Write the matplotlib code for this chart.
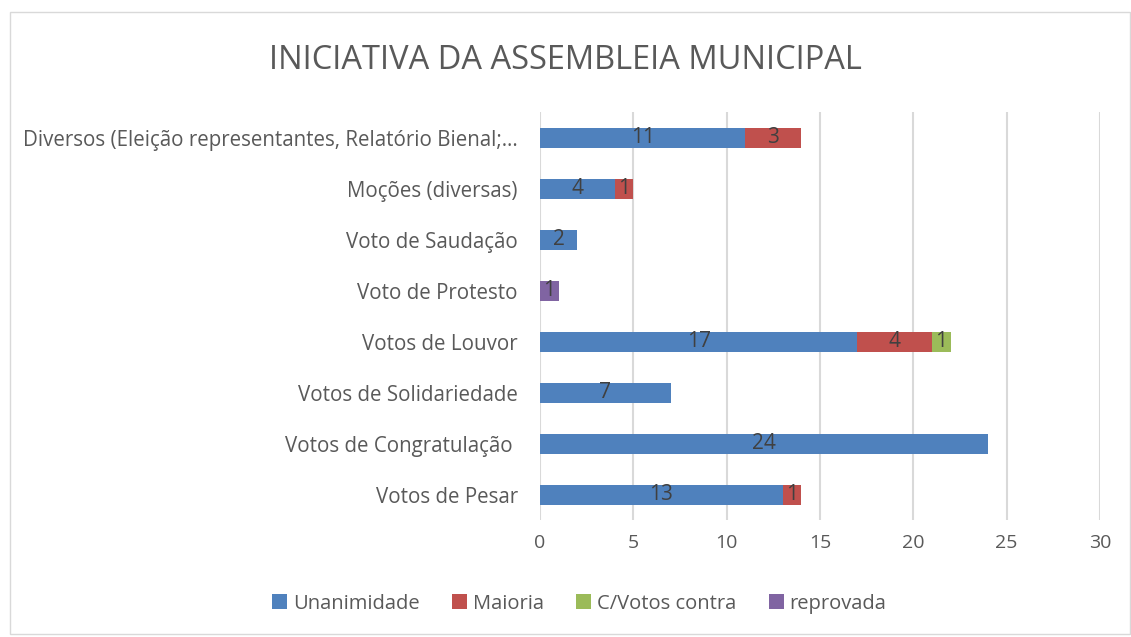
import matplotlib.pyplot as plt
import numpy as np
from matplotlib.patches import Rectangle

plt.rcParams['font.family'] = ['Open Sans', 'DejaVu Sans']

categories = ['Votos de Pesar', 'Votos de Congratulação ', 'Votos de Solidariedade',
              'Votos de Louvor', 'Voto de Protesto', 'Voto de Saudação',
              'Moções (diversas)', 'Diversos (Eleição representantes, Relatório Bienal;…']
unanimidade = [13, 24, 7, 17, 0, 2, 4, 11]
maioria = [1, 0, 0, 4, 0, 0, 1, 3]
votos_contra = [0, 0, 0, 1, 0, 0, 0, 0]
reprovada = [0, 0, 0, 0, 1, 0, 0, 0]

series = [('Unanimidade', unanimidade, '#4f81bd'),
          ('Maioria', maioria, '#c0504d'),
          ('C/Votos contra', votos_contra, '#9bbb59'),
          ('reprovada', reprovada, '#8064a2')]

fig = plt.figure(figsize=(11.31, 6.37), dpi=100)
ax = fig.add_axes([0.4775, 0.1829, 0.4951, 0.6405])

y = np.arange(len(categories))
left = np.zeros(len(categories))
for name, vals, color in series:
    vals = np.array(vals, dtype=float)
    bars = ax.barh(y, vals, left=left, height=0.4, color=color, label=name, zorder=3)
    for b, v in zip(bars, vals):
        if v > 0:
            ax.text(b.get_x() + b.get_width() / 2, b.get_y() + b.get_height() / 2, f'{int(v)}',
                    ha='center', va='center', fontsize=15, color='#404040', zorder=4)
    left += vals

ax.set_xlim(0, 30)
ax.set_ylim(-0.5, len(categories) - 0.5)
ax.set_xticks(range(0, 31, 5))
ax.set_yticks(y)
ax.set_yticklabels(categories)
ax.tick_params(axis='both', length=0, labelsize=14, colors='#595959')
ax.tick_params(axis='y', labelsize=14.8, pad=16)
ax.tick_params(axis='x', pad=10)
ax.grid(axis='x', color='#d9d9d9', linewidth=1.5, zorder=0)
for s in ax.spines.values():
    s.set_visible(False)

fig.text(0.5, 0.905, 'INICIATIVA DA ASSEMBLEIA MUNICIPAL', ha='center', va='center',
         fontsize=23.5, color='#595959')

fig.legend(loc='center', bbox_to_anchor=(0.512, 0.052), ncol=4, frameon=False,
           fontsize=14.5, labelcolor='#595959', handlelength=0.75, handleheight=0.75,
           handletextpad=0.3, columnspacing=1.6)

fig.patches.append(Rectangle((10 / 1131, 3 / 637), 1 - 11 / 1131, 1 - 15 / 637,
                             transform=fig.transFigure, fill=False,
                             edgecolor='#d9d9d9', linewidth=1))

fig.savefig('out.png', dpi=100)
